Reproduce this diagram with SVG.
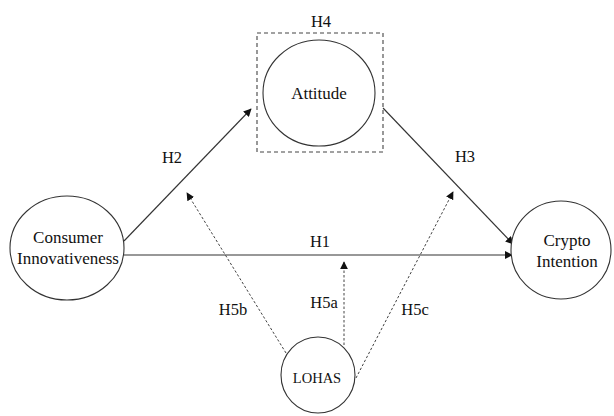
<svg xmlns="http://www.w3.org/2000/svg" width="614" height="416" viewBox="0 0 614 416">
<style>
text{font-family:"Liberation Serif","Times New Roman",serif;font-size:17px;fill:#111;text-anchor:middle}
.node{fill:#fff;stroke:#333;stroke-width:1.1}
.box{fill:none;stroke:#444;stroke-width:1.1;stroke-dasharray:4,3}
.solid{stroke:#333;stroke-width:1.1;fill:none}
.dash{stroke:#444;stroke-width:1;fill:none;stroke-dasharray:2.5,2}
.lbl{font-size:16.5px}
</style>
<defs>
<marker id="ah" viewBox="0 0 10 10" refX="9" refY="5" markerWidth="8" markerHeight="8" markerUnits="userSpaceOnUse" orient="auto">
<path d="M0,0 L10,5 L0,10 z" fill="#111"/>
</marker>
</defs>
<rect width="614" height="416" fill="#fff"/>
<g id="connectors">
<line class="solid" x1="124" y1="241" x2="251" y2="109" marker-end="url(#ah)"/>
<line class="solid" x1="383" y1="108" x2="513" y2="244" marker-end="url(#ah)"/>
<line class="solid" x1="124" y1="255" x2="512" y2="255" marker-end="url(#ah)"/>
<line class="dash" x1="344" y1="345" x2="344" y2="262" marker-end="url(#ah)"/>
<line class="dash" x1="286" y1="353" x2="187" y2="193" marker-end="url(#ah)"/>
<line class="dash" x1="356" y1="378" x2="453" y2="192" marker-end="url(#ah)"/>
<text class="lbl" x="172" y="163">H2</text>
<text class="lbl" x="465" y="162">H3</text>
<text class="lbl" x="320" y="247">H1</text>
<text class="lbl" x="233" y="315">H5b</text>
<text class="lbl" x="324" y="308">H5a</text>
<text class="lbl" x="415" y="315">H5c</text>
</g>
<g id="attitude">
<rect class="box" x="257" y="33" width="126" height="119"/>
<text class="lbl" x="321" y="27">H4</text>
<ellipse class="node" cx="319" cy="93" rx="56" ry="53"/>
<text x="319" y="99">Attitude</text>
</g>
<g id="consumer">
<ellipse class="node" cx="67" cy="248" rx="57" ry="52"/>
<text x="68" y="243">Consumer</text>
<text x="68" y="264">Innovativeness</text>
</g>
<g id="crypto">
<ellipse class="node" cx="561" cy="250" rx="50" ry="49"/>
<text x="567" y="246">Crypto</text>
<text x="567" y="267">Intention</text>
</g>
<g id="lohas">
<ellipse class="node" cx="318" cy="375" rx="37" ry="38"/>
<text x="317" y="383" style="font-size:14.5px">LOHAS</text>
</g>
</svg>
